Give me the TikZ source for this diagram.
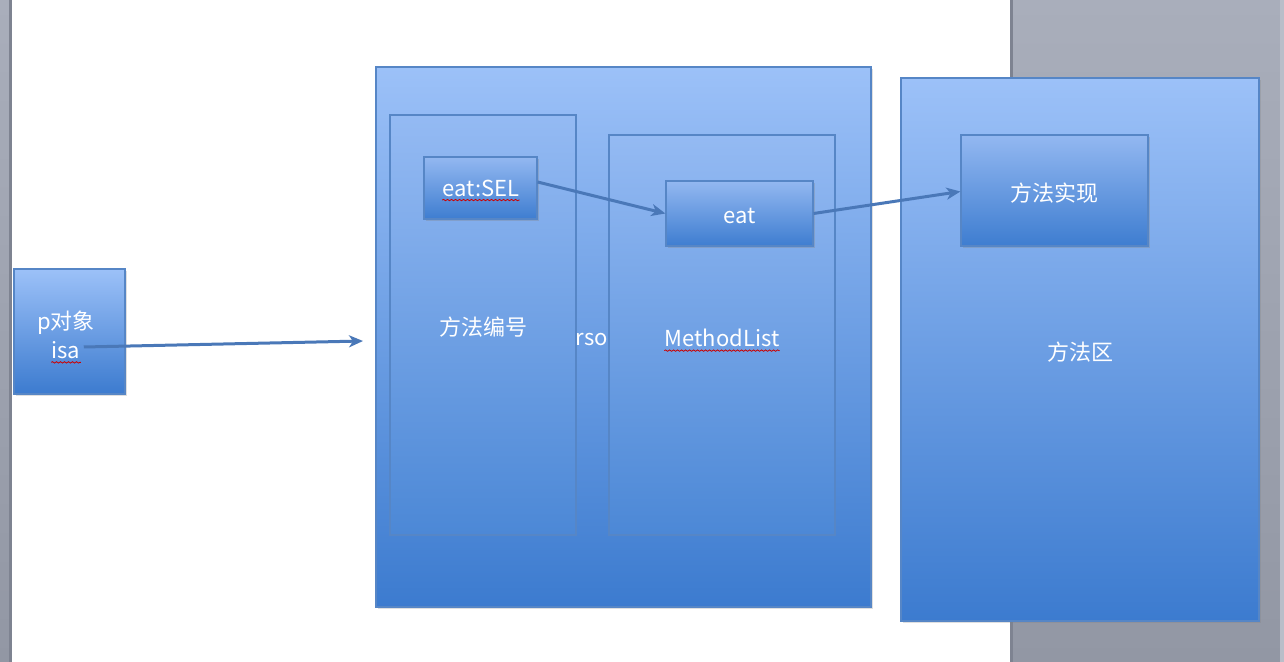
\documentclass[tikz,border=0pt]{standalone}
\usepackage{fontspec}
\setmainfont{Noto Sans CJK SC}
\usetikzlibrary{arrows.meta,fit,shadows,calc,decorations.pathmorphing}
\definecolor{gtop}{HTML}{A9AEBB}
\definecolor{gbot}{HTML}{9297A4}
\definecolor{gedge}{HTML}{7E8391}
\definecolor{btop}{HTML}{9CC1F8}
\definecolor{bbot}{HTML}{3C7BCF}
\definecolor{bline}{HTML}{5686C6}
\definecolor{itop}{HTML}{94BAF3}
\definecolor{ibot}{HTML}{4C88D6}
\definecolor{stop}{HTML}{93B8F1}
\definecolor{sbot}{HTML}{3E7DD0}
\definecolor{arr}{HTML}{4A78B8}
\tikzset{
  bigbox/.style={draw=bline, line width=0.6pt, top color=btop, bottom color=bbot, inner sep=0pt,
    drop shadow={opacity=0.25, shadow xshift=1pt, shadow yshift=-1.2pt}},
  innerbox/.style={draw=bline, line width=0.6pt, top color=itop, bottom color=ibot, inner sep=0pt},
  smallbox/.style={draw=bline, line width=0.6pt, top color=stop, bottom color=sbot, inner sep=0pt,
    drop shadow={opacity=0.3, shadow xshift=0.8pt, shadow yshift=-1pt}},
  txt/.style={text=white, font=\fontsize{11}{13}\selectfont, inner sep=0pt},
  conn/.style={draw=arr, line width=1.5pt, -{Stealth[length=7pt,width=6pt,inset=2pt]}},
  squig/.style={draw=red!80!black, line width=0.4pt, decorate,
    decoration={snake, segment length=2pt, amplitude=0.35pt}}
}
\begin{document}
\begin{tikzpicture}[x=0.5pt,y=-0.5pt]
\useasboundingbox (0,0) rectangle (1284,662);
% page background
\fill[white] (0,0) rectangle (1284,662);
\shade[top color=gtop, bottom color=gbot] (0,0) rectangle (11,662);
\fill[gedge] (9,0) rectangle (12,662);
\shade[top color=gtop, bottom color=gbot] (1010,0) rectangle (1284,662);
\fill[gedge] (1010,0) rectangle (1013,662);
\fill[gtop!80!white] (1280,0) rectangle (1284,662);

% p object
\node[bigbox, fit={(14,269) (125,394)}] (pobj) {};
\node[txt] (plabel) at (66,323) {p对象};
\node[txt] (isa) at (66,350) {isa};
\draw[squig] ([yshift=-2pt]isa.base west) -- ([yshift=-2pt]isa.base east);

% class box
\node[bigbox, fit={(376,67) (871,607)}] (cls) {};
\node[innerbox, fit={(390,115) (576,535)}] (sels) {};
\node[txt] (selslabel) at (483,327) {方法编号};
\node[innerbox, fit={(609,135) (835,535)}] (mlist) {};
\node[txt] (mlistlabel) at (722,338) {MethodList};
\draw[squig] ([yshift=-2pt]mlistlabel.base west) -- ([yshift=-2pt]mlistlabel.base east);
\node[txt] (rso) at (592,340) {rso};

\node[smallbox, fit={(424,157) (537,219)}] (sel) {};
\node[txt] (sellabel) at (481,188) {eat:SEL};
\draw[squig] ([yshift=-2pt]sellabel.base west) -- ([yshift=-2pt]sellabel.base east);
\node[smallbox, fit={(666,181) (813,246)}] (eat) {};
\node[txt] (eatlabel) at (740,216) {eat};

% method area
\node[bigbox, fit={(901,78) (1259,621)}] (area) {};
\node[txt] (arealabel) at (1080,352) {方法区};
\node[smallbox, fit={(961,135) (1148,246)}] (impl) {};
\node[txt] (impllabel) at (1054,193) {方法实现};

% connectors
\coordinate (clsin) at (363,341);
\draw[conn] ($(isa.east)+(3,-3)$) -- (clsin);
\draw[conn] ($(sel.east)+(0,-6)$) -- (eat.west);
\draw[conn] (eat.east) -- ($(impl.west)+(0,1)$);
\end{tikzpicture}
\end{document}
